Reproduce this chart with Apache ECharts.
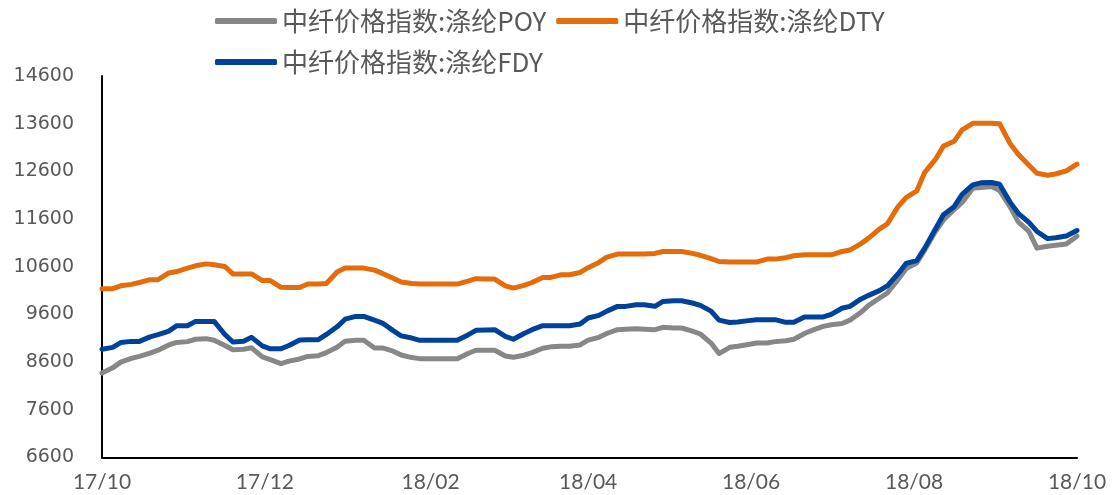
<!DOCTYPE html>
<html>
<head>
<meta charset="utf-8">
<script src="https://cdn.jsdelivr.net/npm/echarts@6/dist/echarts.min.js"></script>
<style>
html,body{margin:0;padding:0;background:#fff;}
#chart{width:1114px;height:495px;}
</style>
</head>
<body>
<div id="chart"></div>
<script>
const seriesNames = ['中纤价格指数:涤纶POY', '中纤价格指数:涤纶DTY', '中纤价格指数:涤纶FDY'];

const dates = ['2017-10-01','2017-10-05','2017-10-08','2017-10-12','2017-10-15','2017-10-19','2017-10-22','2017-10-26','2017-10-29',
  '2017-11-02','2017-11-05','2017-11-09','2017-11-12','2017-11-16','2017-11-19','2017-11-23','2017-11-26','2017-11-30',
  '2017-12-03','2017-12-07','2017-12-10','2017-12-14','2017-12-17','2017-12-21','2017-12-24','2017-12-28','2017-12-31',
  '2018-01-04','2018-01-07','2018-01-11','2018-01-14','2018-01-18','2018-01-21','2018-01-25','2018-01-28',
  '2018-02-01','2018-02-04','2018-02-08','2018-02-11','2018-02-15','2018-02-18','2018-02-22','2018-02-25',
  '2018-03-01','2018-03-04','2018-03-08','2018-03-11','2018-03-15','2018-03-18','2018-03-22','2018-03-25','2018-03-29',
  '2018-04-01','2018-04-05','2018-04-08','2018-04-12','2018-04-15','2018-04-19','2018-04-22','2018-04-26','2018-04-29',
  '2018-05-03','2018-05-06','2018-05-10','2018-05-13','2018-05-17','2018-05-20','2018-05-24','2018-05-27','2018-05-31',
  '2018-06-03','2018-06-07','2018-06-10','2018-06-14','2018-06-17','2018-06-21','2018-06-24','2018-06-28',
  '2018-07-01','2018-07-05','2018-07-08','2018-07-12','2018-07-15','2018-07-19','2018-07-22','2018-07-26','2018-07-29',
  '2018-08-02','2018-08-05','2018-08-09','2018-08-12','2018-08-16','2018-08-19','2018-08-23','2018-08-26','2018-08-30',
  '2018-09-02','2018-09-06','2018-09-09','2018-09-13','2018-09-16','2018-09-20','2018-09-23','2018-09-27','2018-10-01'];

const poy = [8373, 8480, 8600, 8680, 8720, 8790, 8850, 8960, 9014, 9030, 9080, 9092, 9060, 8950, 8860, 8870, 8900, 8710,
  8652, 8570, 8620, 8667, 8720, 8736, 8800, 8910, 9040, 9057, 9057, 8897, 8897, 8830, 8750, 8695, 8673,
  8673, 8673, 8673, 8673, 8780, 8848, 8848, 8848, 8730, 8701, 8745, 8800, 8890, 8920, 8932, 8932, 8960,
  9060, 9120, 9200, 9280, 9290, 9300, 9290, 9280, 9330, 9316, 9316, 9250, 9190, 9000, 8780, 8910, 8932, 8970,
  9000, 9000, 9030, 9050, 9080, 9200, 9270, 9350, 9385, 9410, 9480, 9640, 9790, 9940, 10050, 10330, 10560,
  10680, 10950, 11340, 11580, 11800, 11950, 12247, 12260, 12282, 12200, 11850, 11540, 11340, 10990, 11030, 11050, 11075, 11240];

const dty = [10140, 10140, 10200, 10230, 10270, 10330, 10330, 10470, 10500, 10570, 10620, 10660, 10640, 10605, 10450, 10450, 10450, 10310,
  10310, 10170, 10166, 10166, 10237, 10237, 10250, 10490, 10572, 10572, 10572, 10530, 10460, 10360, 10279, 10250, 10237,
  10237, 10237, 10237, 10237, 10300, 10350, 10342, 10342, 10200, 10153, 10208, 10270, 10376, 10376, 10432, 10432, 10480,
  10580, 10690, 10800, 10865, 10865, 10865, 10865, 10880, 10920, 10920, 10920, 10880, 10840, 10770, 10710, 10698, 10698, 10698,
  10698, 10760, 10760, 10790, 10830, 10851, 10851, 10851, 10851, 10920, 10950, 11080, 11200, 11390, 11500, 11860, 12050,
  12190, 12580, 12850, 13130, 13230, 13470, 13608, 13608, 13608, 13600, 13180, 12960, 12730, 12560, 12520, 12545, 12610, 12750];

const fdy = [8870, 8910, 9010, 9035, 9035, 9130, 9175, 9250, 9364, 9364, 9454, 9454, 9454, 9180, 9022, 9040, 9120, 8940,
  8880, 8880, 8950, 9065, 9071, 9071, 9180, 9340, 9500, 9559, 9559, 9480, 9420, 9260, 9150, 9105, 9057,
  9057, 9057, 9057, 9057, 9170, 9266, 9275, 9280, 9140, 9080, 9200, 9280, 9364, 9364, 9364, 9364, 9400,
  9525, 9580, 9670, 9769, 9769, 9804, 9804, 9770, 9873, 9888, 9888, 9840, 9790, 9670, 9480, 9430, 9442, 9470,
  9490, 9490, 9490, 9434, 9434, 9547, 9547, 9547, 9600, 9730, 9770, 9920, 10000, 10100, 10200, 10450, 10670,
  10730, 10990, 11390, 11690, 11860, 12120, 12317, 12360, 12366, 12330, 11950, 11720, 11530, 11340, 11190, 11210, 11245, 11360];

const xTickDates = ['2017-10-01','2017-12-01','2018-02-01','2018-04-01','2018-06-01','2018-08-01','2018-10-01'];
const yTickValues = [6600, 7600, 8600, 9600, 10600, 11600, 12600, 13600, 14600];

function toTs(s){ const p = s.split('-').map(Number); return new Date(p[0], p[1]-1, p[2]).getTime(); }

const colors = ['#878787', '#E46C0A', '#00419A'];
const values = [poy, dty, fdy];

const chart = echarts.init(document.getElementById('chart'), null, {renderer:'canvas'});
const legendText = {fontFamily:'"Noto Sans CJK SC", sans-serif', fontSize:26, color:'#595959', lineHeight:30};
const option = {
  animation:false,
  backgroundColor:'#fff',
  color: colors,
  grid:{left:102, right:37, top:76, bottom:37.5, containLabel:false},
  legend:[
    {data:[seriesNames[0], seriesNames[1]], left:210, top:1, icon:'roundRect', itemWidth:62, itemHeight:6, itemGap:10, textStyle:legendText},
    {data:[seriesNames[2]], left:210, top:42, icon:'roundRect', itemWidth:62, itemHeight:6, itemGap:10, textStyle:legendText}
  ],
  xAxis:{
    type:'value',
    min: toTs(xTickDates[0]),
    max: toTs(xTickDates[xTickDates.length-1]),
    axisLine:{show:true, lineStyle:{color:'#000', width:2}},
    axisTick:{show:false},
    splitLine:{show:false},
    axisLabel:{
      customValues: xTickDates.map(toTs),
      showMinLabel:true, showMaxLabel:true,
      margin:14,
      color:'#595959', fontFamily:'Lato, sans-serif', fontSize:21,
      formatter:function(v){ const d = new Date(v); return String(d.getFullYear()%100).padStart(2,'0') + '/' + String(d.getMonth()+1).padStart(2,'0'); }
    }
  },
  yAxis:{
    type:'value',
    min:6600, max:14600, interval:200,
    axisLine:{show:true, lineStyle:{color:'#000', width:2}},
    axisTick:{show:false},
    splitLine:{show:false},
    axisLabel:{
      margin:28,
      color:'#595959', fontFamily:'"DejaVu Sans", sans-serif', fontSize:19,
      formatter:function(v){ return yTickValues.indexOf(v) >= 0 ? String(v) : ''; }
    }
  },
  series: seriesNames.map((n,i)=>({
    name:n, type:'line', showSymbol:false, symbol:'none',
    data: dates.map((d,j)=>[toTs(d), values[i][j]]),
    lineStyle:{width:5, color:colors[i], cap:'round', join:'round'},
    itemStyle:{color:colors[i]},
    z: 2+i
  }))
};
chart.setOption(option);
</script>
</body>
</html>
